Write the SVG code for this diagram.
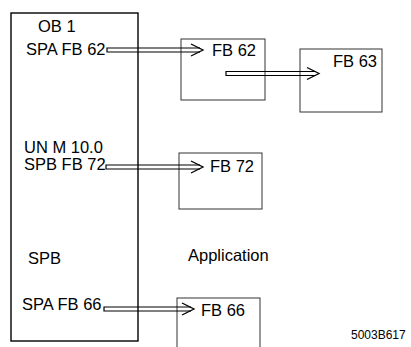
<svg xmlns="http://www.w3.org/2000/svg" width="411" height="347" viewBox="0 0 411 347">
<style>
text{font-family:"Liberation Sans",Arial,sans-serif;font-size:16.5px;fill:#000}
.main{fill:none;stroke:#000;stroke-width:1.4}
.box{fill:none;stroke:#333;stroke-width:1}
.shaft{fill:none;stroke:#000;stroke-width:1.2}
.head{fill:none;stroke:#000;stroke-width:1.3}
.small{font-size:12px}
</style>
<rect width="411" height="347" fill="#fff"/>
<g id="ob1">
<rect class="main" x="11" y="13" width="127" height="328"/>
<text x="38" y="32">OB 1</text>
<text x="26" y="55">SPA FB 62</text>
<text x="24" y="153">UN M 10.0</text>
<text x="24" y="170">SPB FB 72</text>
<text x="28" y="264">SPB</text>
<text x="22" y="310">SPA FB 66</text>
</g>
<g id="fb62">
<rect class="box" x="181" y="39" width="84" height="61"/>
<text x="212" y="56">FB 62</text>
</g>
<g id="fb63">
<rect class="box" x="300" y="49" width="82" height="63"/>
<text x="333" y="67">FB 63</text>
</g>
<g id="fb72">
<rect class="box" x="179" y="153" width="83" height="56"/>
<text x="210" y="172">FB 72</text>
</g>
<g id="fb66">
<rect class="box" x="177" y="298" width="83" height="52"/>
<text x="201" y="316">FB 66</text>
</g>
<g id="application">
<text x="188" y="261">Application</text>
</g>
<g id="label">
<text class="small" x="351" y="339">5003B617</text>
</g>
<g id="connectors">
<path class="shaft" d="M200 48H107V52H200"/>
<path class="head" d="M191 44L203 50L191 56"/>
<path class="shaft" d="M316 71.5H226V75.5H316"/>
<path class="head" d="M307 67.5L319 73.5L307 79.5"/>
<path class="shaft" d="M200 165H106V169H200"/>
<path class="head" d="M191 161L203 167L191 173"/>
<path class="shaft" d="M191 307H104V311H191"/>
<path class="head" d="M182 303L194 309L182 315"/>
</g>
</svg>
